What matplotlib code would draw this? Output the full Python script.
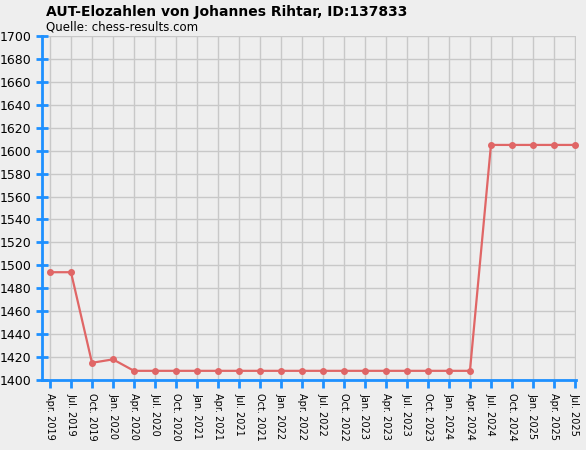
import matplotlib.pyplot as plt

labels = []
for y in range(2019, 2026):
    for m in ['Jan.', 'Apr.', 'Jul.', 'Oct.']:
        labels.append('%s %d' % (m, y))
labels = labels[1:-1]  # Apr. 2019 .. Jul. 2025
elo = [1494, 1494, 1415, 1418] + [1408] * 17 + [1605] * 5

fig = plt.figure(figsize=(5.86, 4.5), dpi=100, facecolor='#eeeeee')
ax = fig.add_axes([42 / 586, 1 - 380 / 450, 534 / 586, 344 / 450])
ax.set_facecolor('#eeeeee')
x = list(range(len(labels)))
ax.plot(x, elo, color='#e06666', lw=1.6, marker='o', ms=4, clip_on=False)
ax.set_xlim(-0.38, len(labels) - 1 + 0.05)
ax.set_ylim(1400, 1700)
ax.set_yticks(range(1400, 1701, 20))
ax.set_xticks(x)
ax.set_xticklabels(labels, rotation=-90, fontsize=7)
ax.tick_params(axis='y', labelsize=9, direction='inout', length=8, color='#1e90ff', width=2)
ax.tick_params(axis='x', direction='out', length=6, color='#1e90ff', width=2)
ax.grid(True, color='#c8c8c8', lw=1)
for s in ['top', 'right']:
    ax.spines[s].set_visible(False)
for s in ['left', 'bottom']:
    ax.spines[s].set_color('#1e90ff')
    ax.spines[s].set_linewidth(2)
fig.text(46 / 586, 1 - 12 / 450, 'AUT-Elozahlen von Johannes Rihtar, ID:137833',
         fontsize=10, fontweight='bold', va='center')
fig.text(46 / 586, 1 - 27 / 450, 'Quelle: chess-results.com', fontsize=8.5, va='center')
fig.savefig('out.png', dpi=100, facecolor='#eeeeee')
